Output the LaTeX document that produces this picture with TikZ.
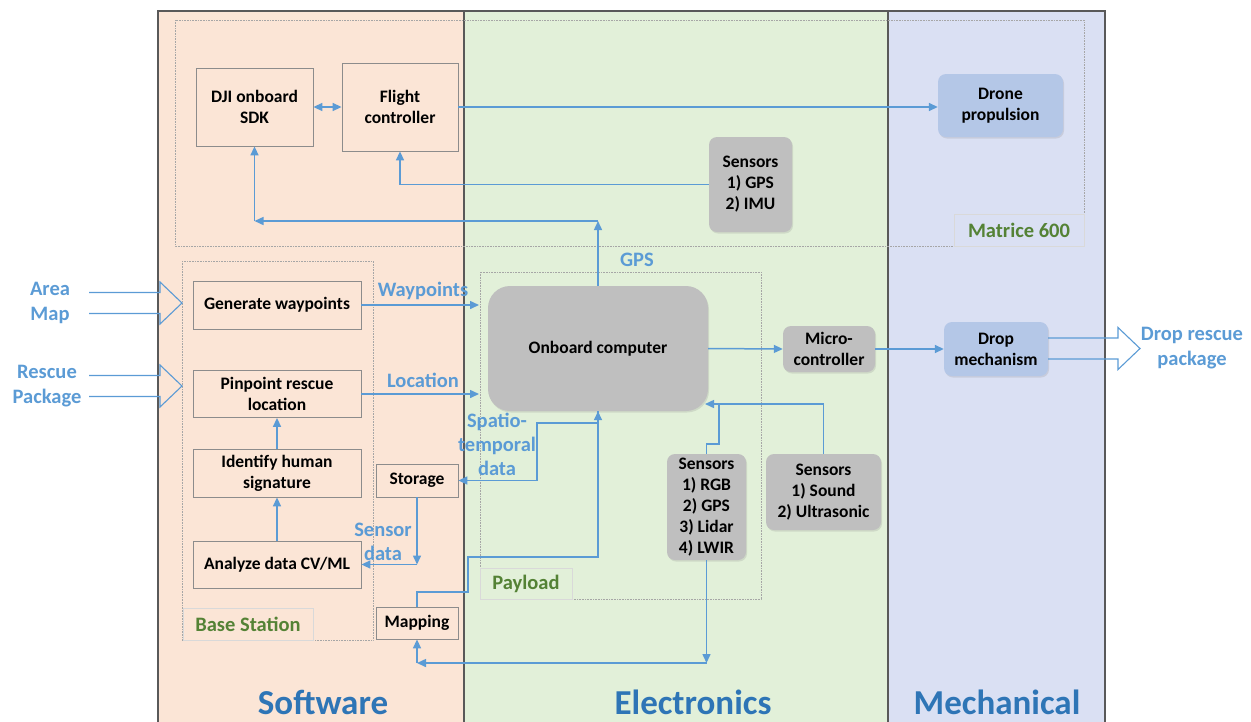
\documentclass[tikz,border=0pt]{standalone}
\usepackage{fontspec}
\setmainfont{Carlito}
\usetikzlibrary{arrows.meta,shadows}

\definecolor{swfill}{HTML}{FBE5D6}
\definecolor{elfill}{HTML}{E2F0D9}
\definecolor{mefill}{HTML}{DAE0F3}
\definecolor{panelline}{HTML}{595959}
\definecolor{boxline}{HTML}{8C8C8C}
\definecolor{hwgray}{HTML}{BFBFBF}
\definecolor{mechblue}{HTML}{B4C7E7}
\definecolor{flowblue}{HTML}{5B9BD5}
\definecolor{titleblue}{HTML}{2E75B6}
\definecolor{taggreen}{HTML}{548235}

\begin{document}
\begin{tikzpicture}[
    x=1pt, y=-1pt,
    panel/.style={panelline, line width=1.4pt},
    group/.style={draw=gray!70, densely dotted, line width=0.6pt},
    tag/.style={draw=gray!30, line width=0.5pt, text=taggreen, inner sep=0pt,
                font=\fontsize{20.5}{24}\selectfont\bfseries},
    swbox/.style={draw=boxline, fill=swfill, line width=0.8pt, inner sep=0pt,
                  align=center, font=\fontsize{17.5}{21}\selectfont\bfseries},
    hwbox/.style={fill=hwgray, rounded corners=8pt, inner sep=0pt, align=center,
                  drop shadow={shadow xshift=1pt, shadow yshift=-1.5pt, opacity=0.2},
                  font=\fontsize{17.5}{21}\selectfont\bfseries},
    mechbox/.style={hwbox, fill=mechblue},
    wire/.style={flowblue, line width=1.5pt},
    flow/.style={wire, -{Triangle[length=9pt, width=8pt]}},
    biflow/.style={wire, {Triangle[length=9pt, width=8pt]}-{Triangle[length=9pt, width=8pt]}},
    hollow/.style={flowblue, line width=1.1pt, line join=miter},
    lbl/.style={text=flowblue, inner sep=0pt, align=center,
                font=\fontsize{20.5}{25}\selectfont\bfseries},
    title/.style={text=titleblue, anchor=base, font=\fontsize{35}{40}\selectfont\bfseries}
]
\useasboundingbox (0,0) rectangle (1251,721);

% ---------- panels ----------
\fill[swfill] (158,11) rectangle (464,725);
\fill[elfill] (464,11) rectangle (888,725);
\fill[mefill] (888,11) rectangle (1105,725);
\draw[panel] (158,725) |- (1105,11) -- (1105,725);
\foreach \x in {464,888}
  \draw[panel] (\x,11) -- (\x,725);

% ---------- groups ----------
\draw[group] (175,20) rectangle (1084,246);
\draw[group] (182,261) rectangle (373,640);
\draw[group] (480,272) rectangle (761,599);
\node[tag, minimum width=130pt, minimum height=32pt] (mtag) at (1019,230) {Matrice 600};
\node[tag, minimum width=92pt, minimum height=31pt] (ptag) at (526,583.5) {Payload};
\node[tag, minimum width=130pt, minimum height=32pt] (btag) at (248,624) {Base Station};

% ---------- flight stack ----------
\node[swbox, minimum width=117pt, minimum height=78pt] (dji) at (254.5,107) {DJI onboard\\SDK};
\node[swbox, minimum width=116pt, minimum height=88pt] (fc) at (400,107) {Flight\\controller};
\node[mechbox, minimum width=125pt, minimum height=63pt] (prop) at (1000.5,105.5) {Drone\\propulsion};
\node[hwbox, minimum width=83pt, minimum height=95pt] (sgps) at (750.5,184.5) {Sensors\\1) GPS\\2) IMU};

% ---------- base station ----------
\node[swbox, minimum width=168pt, minimum height=48pt] (gen) at (277,305) {Generate waypoints};
\node[swbox, minimum width=168pt, minimum height=47pt] (pin) at (277,394) {Pinpoint rescue\\location};
\node[swbox, minimum width=168pt, minimum height=48pt] (ident) at (277,473) {Identify human\\signature};
\node[swbox, minimum width=168pt, minimum height=47pt] (anal) at (277,564.5) {Analyze data CV/ML};
\node[swbox, minimum width=82pt, minimum height=33pt] (stor) at (417,480.5) {Storage};
\node[swbox, minimum width=82pt, minimum height=32pt] (map) at (417,623) {Mapping};

% ---------- payload and actuators ----------
\node[hwbox, rounded corners=22pt, minimum width=220pt, minimum height=125pt] (obc) at (598,348.5) {Onboard computer};
\node[hwbox, minimum width=92pt, minimum height=46pt] (micro) at (829,349) {Micro-\\controller};
\node[mechbox, minimum width=104pt, minimum height=54pt] (drop) at (996,349) {Drop\\mechanism};
\node[hwbox, minimum width=79pt, minimum height=106pt] (srgb) at (706.5,507) {Sensors\\1) RGB\\2) GPS\\3) Lidar\\4) LWIR};
\node[hwbox, minimum width=115pt, minimum height=76pt] (ssnd) at (823.5,492) {Sensors\\1) Sound\\2) Ultrasonic};

% ---------- labels ----------
\node[lbl] (areamap) at (50,302.5) {Area\\Map};
\node[lbl] (rescuepkg) at (47,386) {Rescue\\Package};
\node[lbl] (droppkg) at (1192,348) {Drop rescue\\package};
\node[lbl] (wplbl) at (423,291) {Waypoints};
\node[lbl] (loclbl) at (423,380) {Location};
\node[lbl] (gpslbl) at (637,260) {GPS};
\node[lbl, font=\fontsize{20.5}{24}\selectfont\bfseries] (stlbl) at (497,444) {Spatio-\\temporal\\data};
\node[lbl, font=\fontsize{20.5}{24}\selectfont\bfseries] (sdlbl) at (383,542) {Sensor\\data};

% titles sit low, as in the slide, but stay on the page
\node[title] (swtitle) at (323,714) {Software};
\node[title] (eltitle) at (693,714) {Electronics};
\node[title] (metitle) at (997,714) {Mechanical};

% ---------- connectors, flight stack ----------
\draw[biflow] (dji.east) -- (fc.west);
\draw[flow] (fc.east) -- (fc.east -| prop.west);
\draw[flow] (sgps.west) -| (fc.south);
\coordinate (gpsup) at (598,221);
\coordinate (gpsleft) at (254.5,221);
\draw[flow] (obc.north) -- (gpsup);
\draw[flow] (gpsup) -- (gpsleft);
\draw[flow] (gpsleft) -- (dji.south);

% ---------- connectors, base station ----------
\coordinate (payin) at (479,0);
\draw[flow] (gen.east) -- (gen.east -| payin);
\draw[flow] (pin.east) -- (pin.east -| payin);
\draw[flow] (anal.north) -- (ident.south);
\draw[flow] (ident.north) -- (pin.south);
\coordinate (sdcorner) at (stor.south |- anal.east);
\draw[flow] (stor.south) -- (sdcorner);
\draw[flow] (sdcorner) -- (anal.east);

% ---------- connectors, payload ----------
\coordinate (stA) at (537,423);
\draw[flow] (obc.south) |- (stA) |- (stor.east);
\coordinate (mpA) at (468,592);
\coordinate (mpB) at (468,557);
\draw[flow] (map.north) |- (mpA) -- (mpB) -| (obc.south);
\coordinate (rgbdown) at (706.5,663);
\coordinate (mapturn) at (map.south |- rgbdown);
\draw[flow] (srgb.south) -- (rgbdown);
\draw[flow] (rgbdown) -- (mapturn);
\draw[flow] (mapturn) -- (map.south);
\coordinate (obcin) at (705,404);
\coordinate (rgbA) at (719,444);
\draw[flow] (ssnd.north) |- (obcin);
\draw[wire] (srgb.north) |- (rgbA) -- (rgbA |- obcin);
\draw[flow] (obc.east) -- (micro.west);
\draw[flow] (micro.east) -- (drop.west);

% ---------- block arrows in and out ----------
\foreach \xa/\xb/\xc/\yc in {89/160/182/303, 89/160/182/386, 1048/1118/1140/348.5}
  \draw[hollow] (\xa,\yc-10.5) -- (\xb,\yc-10.5) -- (\xb,\yc-21) -- (\xc,\yc)
             -- (\xb,\yc+21) -- (\xb,\yc+10.5) -- (\xa,\yc+10.5);

\end{tikzpicture}
\end{document}
